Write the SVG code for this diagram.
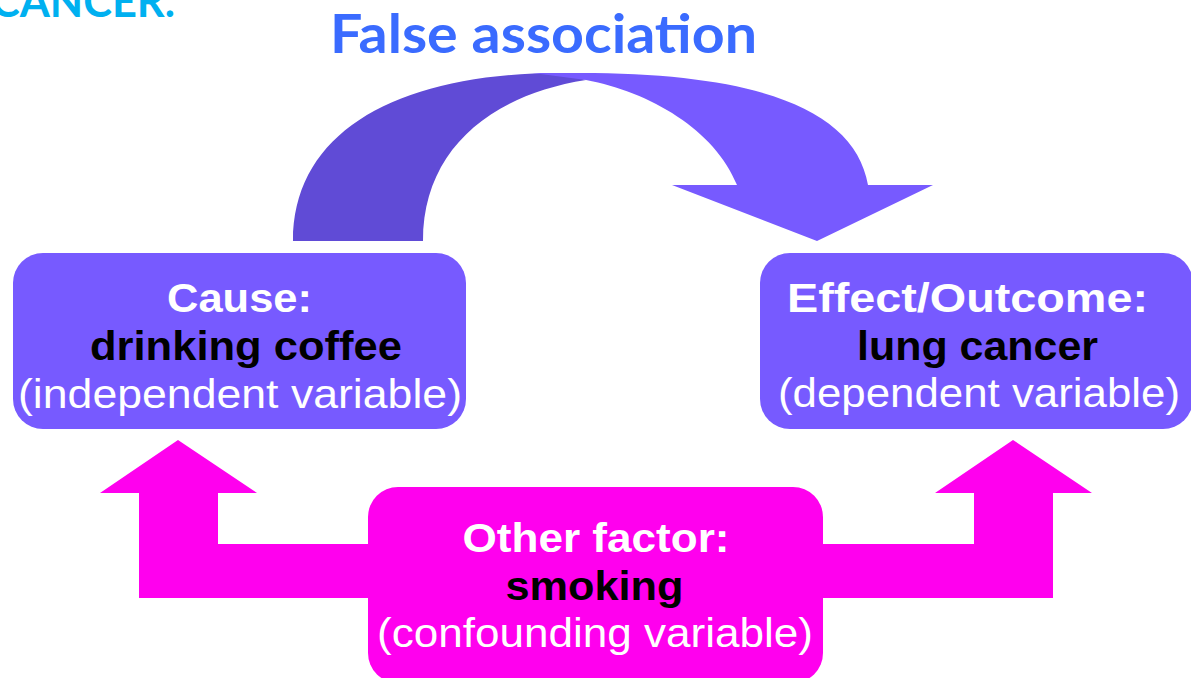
<svg xmlns="http://www.w3.org/2000/svg" width="1191" height="678" viewBox="0 0 1191 678">
  <style>
    .box { fill: #775AFF; }
    .pbox { fill: #FF00EE; }
    .pink { fill: #FF00EE; }
    .t { font-family: "Liberation Sans", Arial, sans-serif; font-size: 40px; text-anchor: middle; }
    .b { font-weight: bold; }
    .w { fill: #FFFFFF; }
    .k { fill: #000000; }
    .title { font-family: Lato, "Open Sans", sans-serif; font-weight: bold; }
  </style>
  <rect width="1191" height="678" fill="#FFFFFF"/>
  <text class="title" x="-9" y="17" font-size="44" fill="#00B0F0" textLength="184" lengthAdjust="spacingAndGlyphs">CANCER.</text>
  <text class="title" x="543.5" y="53" font-size="54" fill="#3A6BFF" text-anchor="middle" textLength="427" lengthAdjust="spacingAndGlyphs">False association</text>

  <g id="connectors">
    <g id="false-association-arrow">
      <path fill="#604BD6" d="M293,241 C293,130 400,73 560,73 L586,80 C490,95 423,150 423,241 Z"/>
      <path fill="#775AFF" d="M533,73 L580,73 C760,73 855,110 868,185 L933,185 L817,241 L672,185 L737,185 C715,130 650,92 586,80 Z"/>
    </g>
    <polygon id="confound-to-cause" class="pink" points="370,598 139,598 139,493 100,493 178,440 257,493 218,493 218,544 370,544"/>
    <polygon id="confound-to-effect" class="pink" points="821,544 974,544 974,493 935,493 1013,440 1092,493 1053,493 1053,598 821,598"/>
  </g>

  <g id="cause">
    <rect class="box" x="13" y="253" width="453" height="176" rx="30"/>
    <text class="t b w" x="239.5" y="312" textLength="145" lengthAdjust="spacingAndGlyphs">Cause:</text>
    <text class="t b k" x="246" y="360" textLength="312" lengthAdjust="spacingAndGlyphs">drinking coffee</text>
    <text class="t w" x="240" y="408" textLength="444" lengthAdjust="spacingAndGlyphs">(independent variable)</text>
  </g>

  <g id="effect">
    <rect class="box" x="760" y="253" width="433" height="176" rx="30"/>
    <text class="t b w" x="967.5" y="312" textLength="361" lengthAdjust="spacingAndGlyphs">Effect/Outcome:</text>
    <text class="t b k" x="977.5" y="360" textLength="241" lengthAdjust="spacingAndGlyphs">lung cancer</text>
    <text class="t w" x="979" y="407" textLength="402" lengthAdjust="spacingAndGlyphs">(dependent variable)</text>
  </g>

  <g id="confounder">
    <rect class="pbox" x="368" y="487" width="455" height="196" rx="30"/>
    <text class="t b w" x="596" y="552" textLength="267" lengthAdjust="spacingAndGlyphs">Other factor:</text>
    <text class="t b k" x="594.5" y="600" textLength="178" lengthAdjust="spacingAndGlyphs">smoking</text>
    <text class="t w" x="595" y="647" textLength="436" lengthAdjust="spacingAndGlyphs">(confounding variable)</text>
  </g>
</svg>
